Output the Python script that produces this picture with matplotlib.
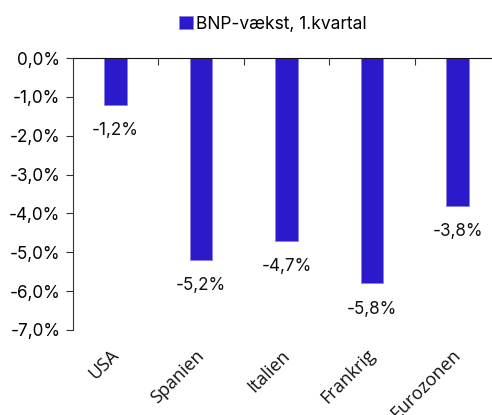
import matplotlib.pyplot as plt
from matplotlib.ticker import FuncFormatter

lande = ["USA", "Spanien", "Italien", "Frankrig", "Eurozonen"]
bnp_vaekst = [-1.2, -5.2, -4.7, -5.8, -3.8]
serie_navn = "BNP-vækst, 1.kvartal"

plt.rcParams['font.family'] = ['Inter', 'DejaVu Sans']

fig = plt.figure(figsize=(4.92, 4.15), dpi=100)
ax = fig.add_axes([0.148, 0.205, 0.869, 0.655])

x = list(range(len(lande)))
ax.bar(x, bnp_vaekst, width=0.26, color='#2b1acb', edgecolor='#8a80e0',
       linewidth=0.6, label=serie_navn)

# værdier under søjlerne
for xi, v in zip(x, bnp_vaekst):
    ax.annotate(f"{v:.1f}%".replace('.', ','), (xi, v), xytext=(0, -18.5),
                textcoords='offset points', ha='center', va='center',
                fontsize=12.3, color='#111111')

ax.set_xlim(-0.5, len(lande) - 0.5)
ax.set_ylim(-7, 0)
ax.set_yticks([0, -1, -2, -3, -4, -5, -6, -7])
ax.yaxis.set_major_formatter(FuncFormatter(lambda v, p: f"{v:.1f}%".replace('.', ',')))
ax.tick_params(axis='y', labelsize=12.3, length=5, color='#333333', pad=4)

# x-akse i toppen (ved 0), tick mellem kategorierne
ax.xaxis.tick_top()
ax.set_xticks([i + 0.5 for i in x[:-1]])
ax.set_xticklabels([])
ax.tick_params(axis='x', direction='in', length=5, color='#333333')

for side in ['right', 'bottom']:
    ax.spines[side].set_visible(False)
ax.spines['left'].set_color('#333333')
ax.spines['top'].set_color('#111111')

# kategorinavne under plottet
for xi, navn in zip(x, lande):
    ax.text(xi - 0.07, -7.42, navn, rotation=45, ha='right', va='top',
            rotation_mode='anchor', fontsize=13, color='#111111',
            family=['Open Sans', 'DejaVu Sans'])

fig.legend(loc='upper center', bbox_to_anchor=(0.555, 1.0), frameon=False,
           fontsize=12.5, handlelength=0.8, handleheight=0.8, handletextpad=0.2)

fig.savefig('out.png', dpi=100)
